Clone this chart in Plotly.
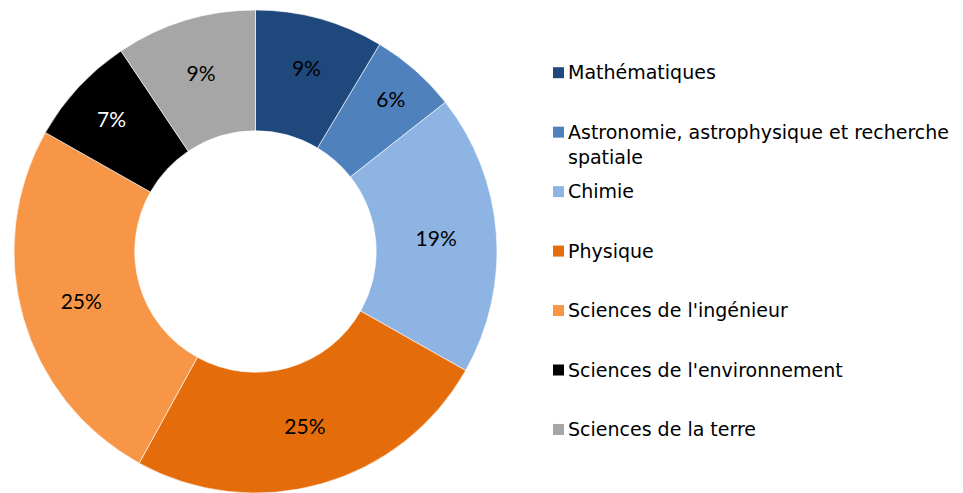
import plotly.graph_objects as go

categories = [
    "Mathématiques",
    "Astronomie, astrophysique et recherche spatiale",
    "Chimie",
    "Physique",
    "Sciences de l'ingénieur",
    "Sciences de l'environnement",
    "Sciences de la terre",
]
legend_labels = [
    "Mathématiques",
    "Astronomie, astrophysique et recherche<br>spatiale",
    "Chimie",
    "Physique",
    "Sciences de l'ingénieur",
    "Sciences de l'environnement",
    "Sciences de la terre",
]
values = [8.6, 5.8, 18.8, 24.8, 25.2, 7.4, 9.4]
colors = ["#1F497D", "#4F81BD", "#8EB4E3", "#E46C0A", "#F79646", "#000000", "#A6A6A6"]
text_colors = ["#000000", "#000000", "#000000", "#000000", "#000000", "#FFFFFF", "#000000"]

W, H = 963, 493
cx, cy, r = 255.5, 251.5, 241.5

fig = go.Figure(
    go.Pie(
        labels=categories,
        values=values,
        hole=0.5,
        sort=False,
        direction="clockwise",
        rotation=0,
        marker=dict(colors=colors, line=dict(color="#FFFFFF", width=0.6)),
        texttemplate="%{percent:.0%}",
        textposition="inside",
        insidetextorientation="horizontal",
        insidetextfont=dict(family="Lato", size=21, color=text_colors),
        domain=dict(x=[(cx - r) / W, (cx + r) / W], y=[(H - cy - r) / H, (H - cy + r) / H]),
        showlegend=False,
    )
)

# manual legend (right side)
y0, step = 72.7, 59.46
fs = 19
for i, (lab, col) in enumerate(zip(legend_labels, colors)):
    yc = y0 + i * step
    fig.add_shape(
        type="rect", xref="paper", yref="paper",
        x0=553 / W, x1=564 / W, y0=1 - (yc + 5.5) / H, y1=1 - (yc - 5.5) / H,
        fillcolor=col, line=dict(width=0),
    )
    fig.add_annotation(
        xref="paper", yref="paper", x=566 / W, y=1 - (yc - 13.4) / H,
        xanchor="left", yanchor="top", align="left", showarrow=False,
        text=lab, font=dict(family="DejaVu Sans", size=fs, color="#000000"),
    )

fig.update_layout(
    width=W, height=H,
    margin=dict(l=0, r=0, t=0, b=0),
    paper_bgcolor="#FFFFFF",
    plot_bgcolor="#FFFFFF",
)
fig.write_html(
    "out.html",
    config={"displayModeBar": False},
    post_script="document.body.style.margin='0';document.body.style.overflow='hidden';",
)
